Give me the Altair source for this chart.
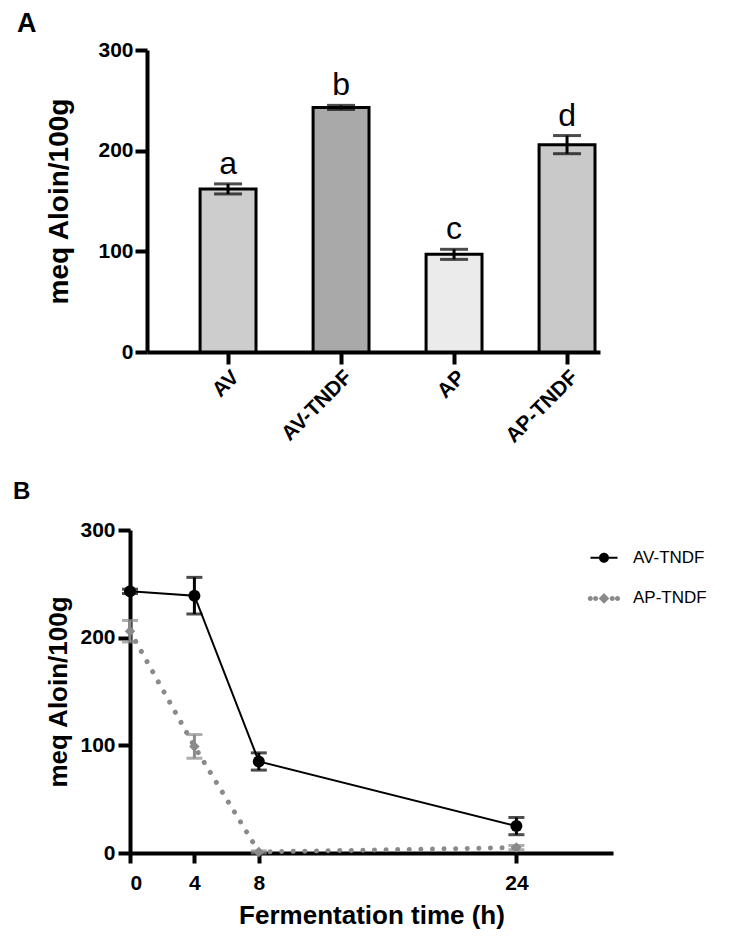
import altair as alt
import pandas as pd

FONT = "Liberation Sans"

# ---------------- Panel A data ----------------
categories = ["AV", "AV-TNDF", "AP", "AP-TNDF"]
bar_means = [162, 243, 97, 206]
bar_errs = [5, 2, 5, 9]
bar_letters = ["a", "b", "c", "d"]
bar_fills = ["#cdcdcd", "#a9a9a9", "#ebebeb", "#c9c9c9"]

# ---------------- Panel B data ----------------
times = [0, 4, 8, 24]
av_tndf_mean = [243, 239, 85, 25]
av_tndf_err = [2, 17, 8, 8]
ap_tndf_mean = [206, 99, 1, 5]
ap_tndf_err = [10, 11, 1, 2]
series_names = ["AV-TNDF", "AP-TNDF"]
series_colors = ["#000000", "#8a8a8a"]

# ---------------- Panel A ----------------
dfA = pd.DataFrame({"cat": categories, "mean": bar_means, "err": bar_errs,
                    "letter": bar_letters})
dfA["lo"] = dfA["mean"] - dfA["err"]
dfA["hi"] = dfA["mean"] + dfA["err"]

axisA_y = alt.Axis(values=[0, 100, 200, 300], title="meq Aloin/100g",
                   titleFont=FONT, titleFontSize=28, titleFontWeight="bold",
                   titleColor="black", titlePadding=24,
                   labelFont=FONT, labelFontSize=21, labelFontWeight="bold",
                   labelColor="black", labelPadding=2,
                   domainColor="black", domainWidth=4, tickColor="black",
                   tickWidth=4, tickSize=12, grid=False)
scaleA_y = alt.Scale(domain=[0, 300], nice=False)
xA = alt.X("cat:N", sort=categories,
           scale=alt.Scale(paddingInner=0.505, paddingOuter=0.257, align=0.914),
           axis=alt.Axis(title=None, labelAngle=-45, labelAlign="right",
                         labelBaseline="top",
                         labelFont=FONT, labelFontSize=21, labelFontWeight="bold",
                         labelColor="black", labelPadding=2,
                         domainColor="black", domainWidth=4, tickColor="black",
                         tickWidth=4, tickSize=12, grid=False))


def yA(field):
    return alt.Y(f"{field}:Q", scale=scaleA_y, axis=axisA_y)


baseA = alt.Chart(dfA)
bars = baseA.mark_bar(stroke="black", strokeWidth=3).encode(
    x=xA, y=yA("mean"),
    fill=alt.Fill("cat:N", scale=alt.Scale(domain=categories, range=bar_fills),
                  legend=None))
errA = baseA.mark_rule(color="black", strokeWidth=3).encode(
    x=xA, y=yA("lo"), y2="hi:Q")
capA_hi = baseA.mark_tick(color="black", thickness=3, size=28,
                          orient="horizontal").encode(x=xA, y=yA("hi"))
capA_lo = baseA.mark_tick(color="black", thickness=3, size=28,
                          orient="horizontal").encode(x=xA, y=yA("lo"))
letters = baseA.mark_text(font=FONT, fontSize=32, baseline="alphabetic",
                          dy=-10, color="black").encode(
    x=xA, y=yA("hi"), text="letter:N")

panelA = alt.layer(bars, errA, capA_lo, capA_hi, letters).properties(
    width=453, height=302,
    title=alt.TitleParams("A", anchor="start", frame="group", dx=-130,
                          dy=37, offset=17, fontSize=27, fontWeight="bold",
                          font=FONT, baseline="alphabetic", color="black"))

# ---------------- Panel B ----------------
rows = []
for name, means, errs in [("AV-TNDF", av_tndf_mean, av_tndf_err),
                          ("AP-TNDF", ap_tndf_mean, ap_tndf_err)]:
    for t, m, e in zip(times, means, errs):
        rows.append({"series": name, "time": t, "mean": m, "lo": m - e,
                     "hi": m + e})
dfB = pd.DataFrame(rows)

axisB_y = alt.Axis(values=[0, 100, 200, 300], title="meq Aloin/100g",
                   titleFont=FONT, titleFontSize=26, titleFontWeight="bold",
                   titleColor="black", titlePadding=8, offset=17,
                   labelFont=FONT, labelFontSize=21, labelFontWeight="bold",
                   labelColor="black", labelPadding=3,
                   domainColor="black", domainWidth=4, tickColor="black",
                   tickWidth=4, tickSize=12, grid=False)
axisB_x = alt.Axis(values=times, title="Fermentation time (h)",
                   titleFont=FONT, titleFontSize=26, titleFontWeight="bold",
                   titleColor="black", titlePadding=9,
                   labelFont=FONT, labelFontSize=21, labelFontWeight="bold",
                   labelColor="black", labelPadding=9, labelAngle=0,
                   domainColor="black", domainWidth=4, tickColor="black",
                   tickWidth=4, tickSize=10, grid=False)
scaleB_y = alt.Scale(domain=[0, 300], nice=False)
scaleB_x = alt.Scale(domain=[0, 30], nice=False, range=[-17, 466])
xB = alt.X("time:Q", scale=scaleB_x, axis=axisB_x)


def yB(field):
    return alt.Y(f"{field}:Q", scale=scaleB_y, axis=axisB_y)


def series_layers(name, color, line_kw, point_kw):
    base = alt.Chart(dfB).transform_filter(alt.datum.series == name)
    line = base.mark_line(color=color, **line_kw).encode(x=xB, y=yB("mean"))
    err = base.mark_rule(color=color, strokeWidth=3).encode(
        x=xB, y=yB("lo"), y2="hi:Q")
    cap_hi = base.mark_tick(color=color, thickness=3, size=16,
                            orient="horizontal").encode(x=xB, y=yB("hi"))
    cap_lo = base.mark_tick(color=color, thickness=3, size=16,
                            orient="horizontal").encode(x=xB, y=yB("lo"))
    pts = base.mark_point(color=color, filled=True, opacity=1,
                          **point_kw).encode(x=xB, y=yB("mean"))
    return [line, err, cap_hi, cap_lo, pts]


ap_layers = series_layers("AP-TNDF", series_colors[1],
                          dict(strokeWidth=5, strokeDash=[0.1, 11.5],
                               strokeCap="round"),
                          dict(shape="diamond", size=110))
av_layers = series_layers("AV-TNDF", series_colors[0],
                          dict(strokeWidth=2),
                          dict(shape="circle", size=144))

legend_paths = [
    "M-1.4,-0.11H1.4V0.11H-1.4Z M0.52,0A0.52,0.52 0 1,1 -0.52,0A0.52,0.52 0 1,1 0.52,0Z",
    "M-1.16,0A0.26,0.26 0 1,1 -1.68,0A0.26,0.26 0 1,1 -1.16,0Z "
    "M-0.61,0A0.26,0.26 0 1,1 -1.13,0A0.26,0.26 0 1,1 -0.61,0Z "
    "M0,-0.55L0.55,0L0,0.55L-0.55,0Z "
    "M1.12,0A0.26,0.26 0 1,1 0.6,0A0.26,0.26 0 1,1 1.12,0Z "
    "M1.66,0A0.26,0.26 0 1,1 1.14,0A0.26,0.26 0 1,1 1.66,0Z",
]
leg = alt.Legend(title=None, orient="none", legendX=447, legendY=17.7,
                 symbolSize=372, symbolStrokeWidth=0, symbolOpacity=1,
                 labelFont=FONT, labelFontSize=17, labelColor="black",
                 labelOffset=19, rowPadding=22.7, padding=0)
legend_layer = alt.Chart(dfB).mark_point(filled=True, opacity=0).encode(
    x=xB, y=yB("mean"),
    color=alt.Color("series:N", sort=series_names,
                    scale=alt.Scale(domain=series_names, range=series_colors),
                    legend=leg),
    shape=alt.Shape("series:N", sort=series_names,
                    scale=alt.Scale(domain=series_names, range=legend_paths),
                    legend=leg))

panelB = alt.layer(*ap_layers, *av_layers, legend_layer).properties(
    width=466, height=323,
    title=alt.TitleParams("B", anchor="start", frame="group", dx=-134,
                          dy=35, offset=31, fontSize=24, fontWeight="bold",
                          font=FONT, baseline="alphabetic", color="black"))

chart = alt.vconcat(panelA, panelB, spacing=33).resolve_scale(
    color="independent", shape="independent", fill="independent",
    x="independent", y="independent"
).resolve_legend(color="independent", shape="independent", fill="independent"
).properties(
    padding={"left": 5, "top": 2, "right": 5, "bottom": 5}
).configure(font=FONT).configure_view(stroke=None)

chart.save("out.html", embed_options={"renderer": "svg", "actions": False})
